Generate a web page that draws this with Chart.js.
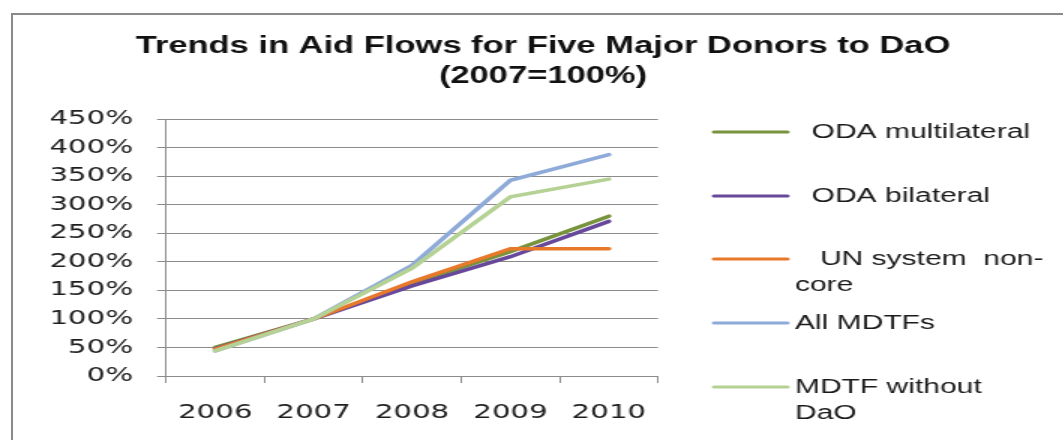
<!DOCTYPE html>
<html>
<head>
<meta charset="utf-8">
<script src="https://cdn.jsdelivr.net/npm/chart.js@4"></script>
<style>
  html, body { margin: 0; padding: 0; background: #fff; overflow: hidden; }
  #frame { position: absolute; left: 11px; top: 13px; width: 1200px; height: 600px; border: 2px solid #8a8a8a; }
  #wrap { position: absolute; left: 0; top: 0; width: 709px; height: 440px; transform: scaleX(1.5); transform-origin: 0 0; }
</style>
</head>
<body>
<div id="frame"></div>
<div id="wrap"><canvas id="chart"></canvas></div>
<script>
const years = ["2006", "2007", "2008", "2009", "2010"];
const odaMultilateral = [50, 100, 162, 218, 280];
const odaBilateral = [48, 100, 158, 209, 271];
const unSystemNonCore = [47, 100, 165, 223, 223];
const allMdtfs = [44, 100, 194, 343, 388];
const mdtfWithoutDaO = [44, 100, 189, 314, 345];

const seriesNames = ["ODA multilateral", "ODA bilateral", "UN system non-core", "All MDTFs", "MDTF without DaO"];
const legendLines = [["  ODA multilateral"], ["  ODA bilateral"], ["   UN system  non-", "core"], ["All MDTFs"], ["MDTF without", "DaO"]];
const colors = ["#77933c", "#67489a", "#e8782a", "#8eaad8", "#b5d194"];
const titleLines = ["Trends in Aid Flows for Five Major Donors to DaO", "(2007=100%)"];

const allSeries = [odaMultilateral, odaBilateral, unSystemNonCore, allMdtfs, mdtfWithoutDaO];

// legend drawn on the right, like the spreadsheet one (labels wrap)
const sideLegend = {
    id: "sideLegend",
    afterDraw(chart) {
        const ctx = chart.ctx;
        ctx.save();
        ctx.font = "20px 'Liberation Sans'";
        ctx.textBaseline = "middle";
        ctx.fillStyle = "#1a1a1a";
        const rowY = [132, 196, 259, 323, 387];
        legendLines.forEach((lines, i) => {
            const y = rowY[i];
            ctx.strokeStyle = colors[i];
            ctx.lineWidth = 3;
            ctx.lineCap = "round";
            ctx.beginPath();
            ctx.moveTo(476, y);
            ctx.lineTo(525, y);
            ctx.stroke();
            lines.forEach((t, j) => ctx.fillText(t, 530, y + j * 26));
        });
        ctx.restore();
    }
};

new Chart(document.getElementById("chart"), {
    type: "line",
    data: {
        labels: years,
        datasets: allSeries.map((d, i) => ({
            label: seriesNames[i],
            data: d,
            borderColor: colors[i],
            backgroundColor: colors[i],
            borderWidth: 3.5,
            pointRadius: 0,
            tension: 0,
            borderCapStyle: "round",
            order: 4 - i
        }))
    },
    options: {
        responsive: true,
        maintainAspectRatio: false,
        animation: false,
        layout: { padding: { left: 15, right: 0, top: 0, bottom: 15 } },
        plugins: {
            legend: { display: false },
            tooltip: { enabled: false },
            title: {
                display: true,
                text: titleLines,
                color: "#111",
                font: { family: "'Liberation Sans'", size: 23, weight: "bold", lineHeight: 1.33 },
                padding: { top: 31, bottom: 27 }
            }
        },
        scales: {
            x: {
                offset: true,
                grid: { offset: true, drawOnChartArea: false, tickLength: 7, color: "#8c8c8c" },
                border: { color: "#8c8c8c" },
                ticks: { padding: 18, color: "#1e1e1e", font: { family: "'DejaVu Sans'", size: 19.5 } },
                afterFit: s => { s.height = 49; }
            },
            y: {
                min: 0,
                max: 450,
                ticks: {
                    stepSize: 50,
                    padding: 16,
                    color: "#1e1e1e",
                    font: { family: "'DejaVu Sans'", size: 19.5 },
                    callback: v => v + "%"
                },
                grid: { color: "#8c8c8c", tickLength: 6 },
                border: { color: "#8c8c8c" },
                afterFit: s => { s.width = 95.7; }
            },
            // empty axis only to keep room for the legend
            side: {
                position: "right",
                display: true,
                grid: { display: false, drawTicks: false },
                border: { display: false },
                ticks: { display: false },
                afterFit: s => { s.width = 270.3; }
            }
        }
    },
    plugins: [sideLegend]
});
</script>
</body>
</html>
